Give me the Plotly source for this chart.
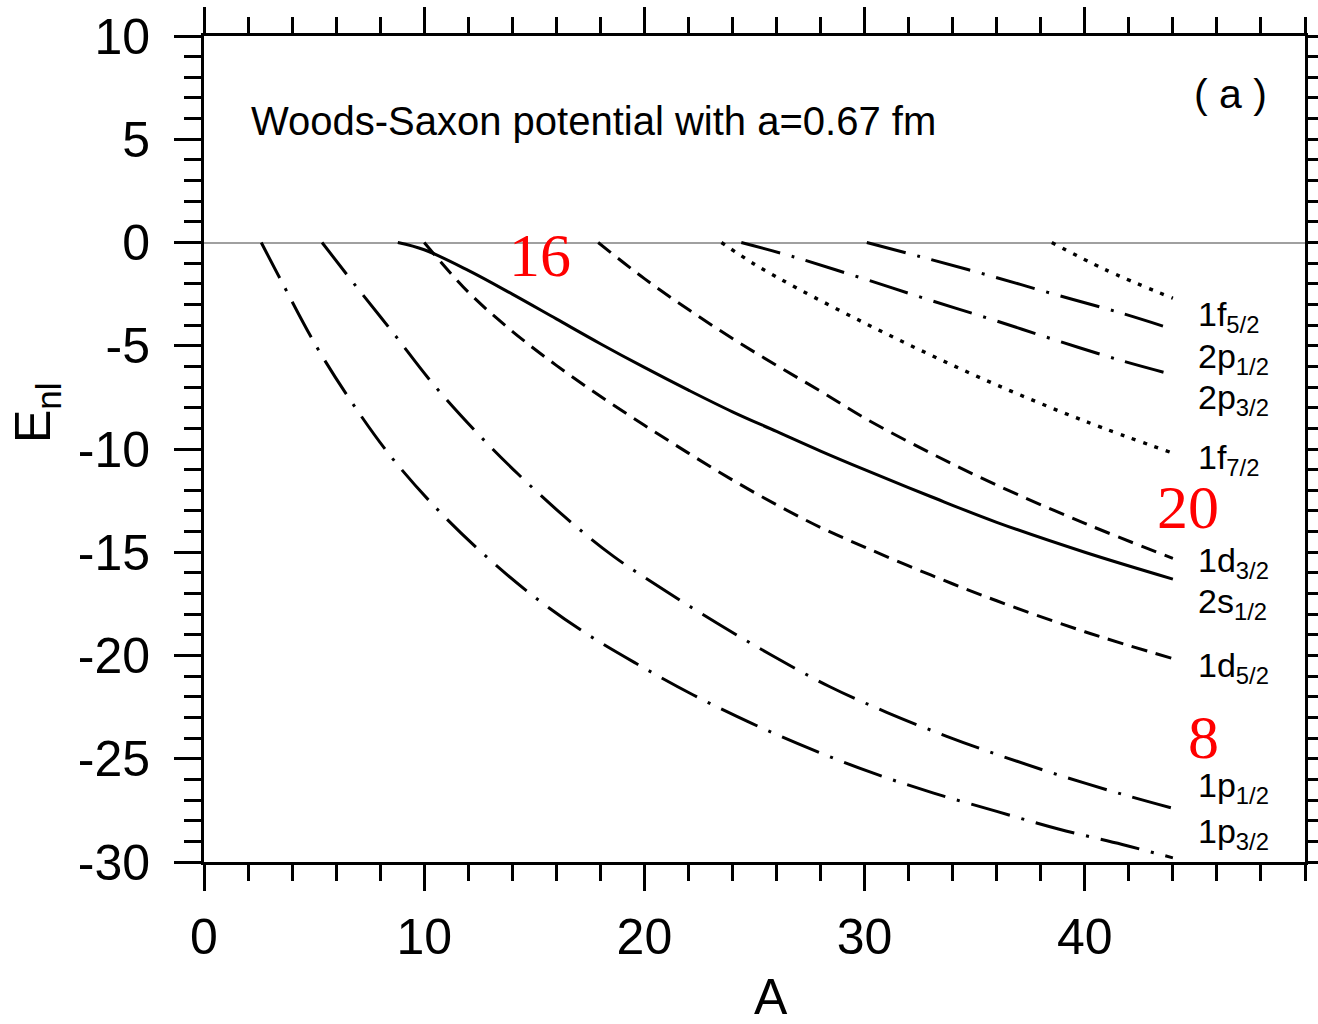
import plotly.graph_objects as go

# ---- data ----
A_1p32 = [2.6, 3.45, 5.13, 6.72, 8.44, 10.4, 12.5, 14.75, 17.16, 19.65, 22.2, 24.9, 27.6, 30.4, 33.1, 36.0, 38.8, 41.7, 44.0]
E_1p32 = [0, -1.74, -5.08, -7.75, -10.3, -12.7, -14.9, -16.95, -18.8, -20.4, -21.9, -23.3, -24.55, -25.7, -26.65, -27.55, -28.4, -29.15, -29.8]

A_1p12 = [5.36, 6.81, 8.58, 10.35, 12.26, 14.25, 16.4, 18.6, 21.0, 23.4, 25.8, 28.4, 31.0, 33.7, 36.3, 39.0, 41.8, 44.0]
E_1p12 = [0, -1.99, -4.36, -6.78, -9.06, -11.2, -13.3, -15.2, -16.9, -18.5, -20.0, -21.5, -22.75, -23.9, -24.9, -25.85, -26.75, -27.4]

A_1d52 = [10.0, 12.0, 14.0, 16.0, 18.0, 20.0, 22.0, 24.0, 26.0, 28.0, 30.0, 33.0, 36.0, 40.0, 44.0]
E_1d52 = [0, -2.4, -4.3, -5.95, -7.45, -8.85, -10.2, -11.5, -12.7, -13.8, -14.75, -16.1, -17.35, -18.85, -20.15]

A_2s12 = [8.8, 10.0, 12.0, 14.0, 16.0, 18.0, 20.0, 22.0, 24.0, 26.0, 28.0, 30.0, 33.0, 36.0, 40.0, 44.0]
E_2s12 = [0, -0.35, -1.35, -2.5, -3.7, -4.9, -6.05, -7.15, -8.2, -9.15, -10.1, -11.0, -12.3, -13.55, -15.0, -16.3]

A_1d32 = [17.9, 20.0, 22.0, 24.0, 26.0, 28.0, 30.0, 33.0, 36.0, 40.0, 44.0]
E_1d32 = [0, -1.75, -3.25, -4.65, -5.95, -7.2, -8.5, -10.2, -11.75, -13.6, -15.3]

A_1f72 = [23.5, 25.0, 27.0, 30.0, 33.0, 36.0, 40.0, 44.0]
E_1f72 = [0, -1.05, -2.25, -3.9, -5.45, -6.9, -8.65, -10.2]

A_2p32 = [24.4, 26.8, 29.8, 32.7, 35.7, 38.6, 41.6, 44.0]
E_2p32 = [0, -0.7, -1.7, -2.7, -3.7, -4.7, -5.7, -6.4]

A_2p12 = [30.1, 32.5, 35.5, 38.6, 41.6, 44.0]
E_2p12 = [0, -0.68, -1.55, -2.5, -3.4, -4.2]

A_1f52 = [38.5, 40.9, 44.0]
E_1f52 = [0, -1.3, -2.7]

# level labels (text, E position)
label_texts = ["1f<sub>5/2</sub>", "2p<sub>1/2</sub>", "2p<sub>3/2</sub>", "1f<sub>7/2</sub>",
               "1d<sub>3/2</sub>", "2s<sub>1/2</sub>", "1d<sub>5/2</sub>", "1p<sub>1/2</sub>", "1p<sub>3/2</sub>"]
label_E = [-3.6, -5.6, -7.6, -10.5, -15.5, -17.5, -20.6, -26.4, -28.6]
label_A = 45.05

# magic numbers (text, A, E)
magic_texts = ["16", "20", "8"]
magic_A = [15.25, 44.7, 45.4]
magic_E = [-0.6, -12.8, -23.95]

x_ticks = [0, 10, 20, 30, 40]
y_ticks = [10, 5, 0, -5, -10, -15, -20, -25, -30]

# ---- figure ----
DASHDOT = "40px,12px,3px,12px"
DASH = "16px,9px"
DOT = "4px,8px"

series = [
    (A_1p32, E_1p32, DASHDOT),
    (A_1p12, E_1p12, DASHDOT),
    (A_1d52, E_1d52, DASH),
    (A_2s12, E_2s12, "solid"),
    (A_1d32, E_1d32, DASH),
    (A_1f72, E_1f72, DOT),
    (A_2p32, E_2p32, DASHDOT),
    (A_2p12, E_2p12, DASHDOT),
    (A_1f52, E_1f52, DOT),
]

fig = go.Figure()
for xs, ys, dash in series:
    fig.add_trace(go.Scatter(
        x=xs, y=ys, mode="lines",
        line=dict(color="black", width=3.4 if dash == DOT else 3, dash=dash, shape="spline", smoothing=1.0),
        showlegend=False, hoverinfo="skip"))

FONT = "Liberation Sans, Arial, Helvetica, sans-serif"

W, H = 1318, 1024
ML, MR, MT, MB = 204, 13, 36, 162
PW, PH = W - ML - MR, H - MT - MB


def px_x(p):
    return (p - ML) / PW


def px_y(p):
    return 1 - (p - MT) / PH


annotations = []
for t, e in zip(label_texts, label_E):
    annotations.append(dict(x=label_A, y=e, xref="x", yref="y", text=t, showarrow=False,
                            xanchor="left", yanchor="middle",
                            font=dict(family=FONT, size=34, color="black")))
for t, a, e in zip(magic_texts, magic_A, magic_E):
    annotations.append(dict(x=a, y=e, xref="x", yref="y", text=t, showarrow=False,
                            xanchor="center", yanchor="middle",
                            font=dict(family="Liberation Serif, Times New Roman, serif", size=62, color="red")))
annotations.append(dict(x=px_x(249), y=px_y(121), xref="paper", yref="paper",
                        text="Woods-Saxon potential with a=0.67 fm",
                        showarrow=False, xanchor="left", yanchor="middle",
                        font=dict(family=FONT, size=40, color="black")))
annotations.append(dict(x=px_x(1230), y=px_y(94), xref="paper", yref="paper", text="( a )",
                        showarrow=False, xanchor="center", yanchor="middle",
                        font=dict(family=FONT, size=41, color="black")))
# axis titles
annotations.append(dict(x=px_x(771), y=px_y(997), xref="paper", yref="paper", text="A",
                        showarrow=False, xanchor="center", yanchor="middle",
                        font=dict(family=FONT, size=50, color="black")))
annotations.append(dict(x=px_x(36), y=px_y(413), xref="paper", yref="paper", text="E<sub>nl</sub>",
                        showarrow=False, xanchor="center", yanchor="middle", textangle=-90,
                        font=dict(family=FONT, size=50, color="black")))

fig.update_layout(
    width=W, height=H,
    margin=dict(l=ML, r=MR, t=MT, b=MB, pad=0, autoexpand=False),
    paper_bgcolor="white", plot_bgcolor="white",
    annotations=annotations,
    font=dict(family=FONT, color="black"),
)

fig.update_xaxes(
    range=[0, 50], tickvals=x_ticks, ticktext=[str(v) for v in x_ticks],
    ticks="outside", ticklen=26, tickwidth=2.5, tickcolor="black",
    showline=True, linewidth=3, linecolor="black", mirror="ticks",
    showgrid=False, zeroline=False, automargin=False,
    tickfont=dict(family=FONT, size=50, color="black"),
    ticklabelstandoff=3,
    minor=dict(dtick=2, ticks="outside", ticklen=16, tickwidth=2.5, tickcolor="black", showgrid=False),
)
fig.update_yaxes(
    range=[-30, 10], tickvals=y_ticks, ticktext=[str(v) for v in y_ticks],
    ticks="outside", ticklen=27, tickwidth=2.5, tickcolor="black",
    showline=True, linewidth=3, linecolor="black", mirror="ticks",
    showgrid=False, zeroline=True, zerolinecolor="#a0a0a0", zerolinewidth=1.5, automargin=False,
    tickfont=dict(family=FONT, size=50, color="black"),
    ticklabelstandoff=14,
    minor=dict(dtick=1, ticks="outside", ticklen=17, tickwidth=2.5, tickcolor="black", showgrid=False),
)

fig.write_html("out.html", config={"displayModeBar": False},
               post_script="document.body.style.margin='0';")
